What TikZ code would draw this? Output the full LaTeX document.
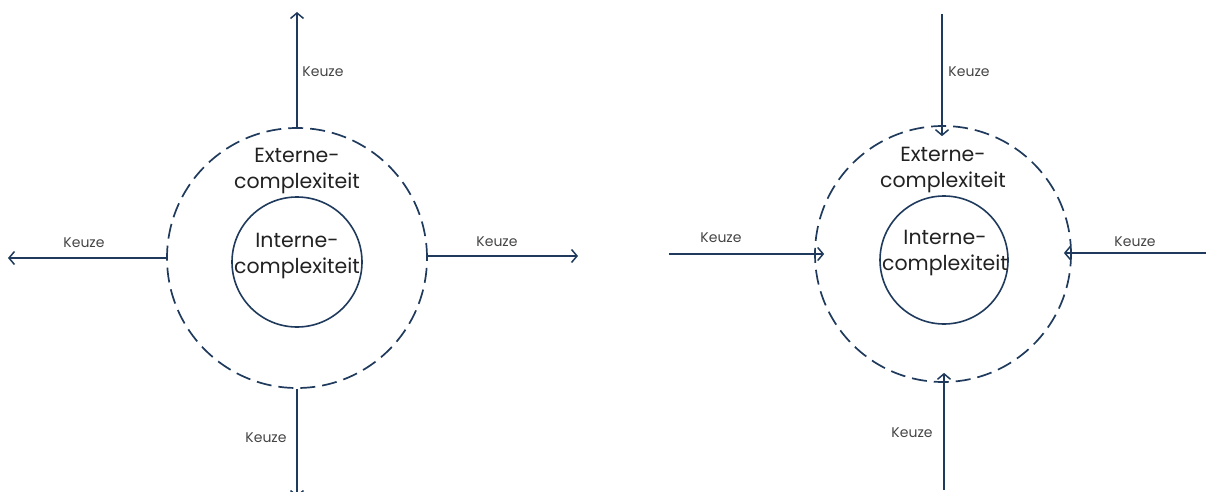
\documentclass[tikz,border=0pt]{standalone}
\usepackage{fontspec}
\setmainfont{Poppins}
\usetikzlibrary{arrows.meta}
\definecolor{navy}{HTML}{1F3A5C}
\definecolor{ink}{HTML}{222222}
\definecolor{lbl}{HTML}{444444}
\tikzset{
  ring/.style={circle, draw=navy, line width=1.7pt, dash pattern=on 15pt off 7pt, minimum size=#1, inner sep=0pt},
  core/.style={circle, draw=navy, line width=1.6pt, minimum size=#1, inner sep=0pt},
  big/.style={text=ink, font=\fontsize{20.5}{26}\selectfont, align=center, inner sep=0pt},
  keuze/.style={text=lbl, font=\fontsize{14}{16}\selectfont, inner sep=0pt},
  pijl/.style={draw=navy, line width=1.5pt, -{Straight Barb[length=5.5pt,width=13pt,line width=1.5pt]}},
}
\begin{document}
\begin{tikzpicture}[x=1pt,y=-1pt]
\useasboundingbox (0,0) rectangle (1206,492);

% ---- outward choices ----
\node[ring=260pt] (oL) at (297,258) {};
\node[core=130pt] (iL) at (297,262) {};
\node[big] (tExtL) at (297,171) {Externe-\\complexiteit};
\node[big] (tIntL) at (297,256) {Interne-\\complexiteit};

\coordinate (uL) at (297,12);
\coordinate (lL) at (8,258);
\coordinate (rL) at (578,256);
\coordinate (dL) at (297,497);
\draw[pijl] (oL.north) -- (uL);
\draw[pijl] (oL.west) -- (lL);
\draw[pijl] (rL -| oL.east) -- (rL);
\draw[pijl] (oL.south) -- (dL);

\node[keuze] (kuL) at (323,72) {Keuze};
\node[keuze] (klL) at (84,243) {Keuze};
\node[keuze] (krL) at (497,242) {Keuze};
\node[keuze] (kdL) at (266,438) {Keuze};

% ---- inward choices ----
\node[ring=256pt] (oR) at (943,254) {};
\node[core=128pt] (iR) at (944,260) {};
\node[big] (tExtR) at (943,170) {Externe-\\complexiteit};
\node[big] (tIntR) at (945,253) {Interne-\\complexiteit};

\coordinate (uR) at (942,14);
\coordinate (lR) at (669,254);
\coordinate (rR) at (1206,253);
\coordinate (dR) at (944,490);
\draw[pijl] (uR) -- ([yshift=-11pt]oR.north -| uR);
\draw[pijl] (lR) -- ([xshift=10pt]oR.west |- lR);
\draw[pijl] (rR) -- ([xshift=-8pt]oR.east |- rR);
\draw[pijl] (dR) -- ([yshift=10pt]oR.south -| dR);

\node[keuze] (kuR) at (969,72) {Keuze};
\node[keuze] (klR) at (721,238) {Keuze};
\node[keuze] (krR) at (1135,242) {Keuze};
\node[keuze] (kdR) at (912,433) {Keuze};
\end{tikzpicture}
\end{document}
